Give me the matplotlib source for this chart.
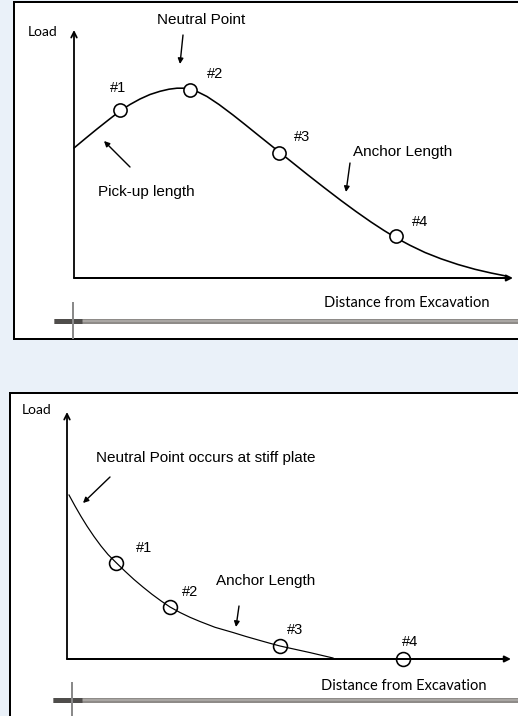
import matplotlib
matplotlib.use("Agg")
import matplotlib.pyplot as plt
from matplotlib.patches import Rectangle
from matplotlib.lines import Line2D

# ---------------- data (schematic units) ----------------
# top panel: load distribution with pick-up length, neutral point and anchor length
top_dist = [0, 12, 23, 35, 46, 56, 66, 76, 86, 95, 103, 110, 116, 124, 133, 145,
            159, 171, 184, 194, 205, 219, 234, 250, 267, 282, 297, 310, 322, 336,
            351, 367, 384, 401, 417, 432]
top_load = [130, 140, 149, 158.5, 167, 173.5, 179, 183.5, 186.7, 188.8, 189.8,
            189.8, 188.8, 186, 181.5, 173.5, 163, 153.5, 143, 135, 126.2, 115,
            103, 90.5, 77.5, 66.5, 56, 47.5, 40.2, 32.7, 25.5, 19.2, 13.5, 8.7,
            5, 2]
top_gauge_dist = [46, 116, 205, 322]
top_gauge_load = [168, 188, 125, 42]

# bottom panel: neutral point at stiff plate
bot_dist = [2, 8, 14, 20, 27, 34, 41, 49, 58, 67, 76, 85, 94, 103, 113, 123,
            133, 148, 166, 179, 193, 203, 213, 228, 243, 266]
bot_load = [164, 153, 142.6, 132.9, 122.5, 113, 104.5, 96.5, 87.8, 79.5, 71.9,
            64.7, 58.1, 52, 46.5, 41.7, 37.5, 31.7, 26.5, 22.5, 18.5, 15.7, 13,
            9.7, 6.4, 1]
bot_gauge_dist = [49, 103, 213, 336]
bot_gauge_load = [96.5, 52, 13, 0]

gauge_labels = ["#1", "#2", "#3", "#4"]
top_label_offsets = [(-2, 22), (25, 16), (23, 16), (24, 14)]
bot_label_offsets = [(28, 15), (20, 15), (15, 16), (7, 17)]

ylabel_text = "Load"
xlabel_text = "Distance from Excavation"

# ---------------- figure ----------------
W, H = 518, 716
BG = "#EAF1F9"
fig = plt.figure(figsize=(W / 100, H / 100), dpi=100, facecolor=BG)

ARIAL = ["Liberation Sans", "DejaVu Sans"]
CALIBRI = ["Lato", "DejaVu Sans"]


def fx(px):
    return px / W


def fy(py):
    return 1 - py / H


def P(px, py):
    return (fx(px), fy(py))


def pt(px):
    return px * 0.72


# panel boxes
for (x0, y0, x1, y1) in [(14, 2, 540, 339), (10, 393, 540, 740)]:
    fig.add_artist(Rectangle(P(x0, y1), fx(x1) - fx(x0), fy(y0) - fy(y1),
                             transform=fig.transFigure, facecolor="white",
                             edgecolor="black", lw=pt(2), zorder=-5,
                             clip_on=False))

# gray decorative rulers
for (ybar, xstart, xtick, ty0, ty1) in [(321, 54, 73, 302, 339), (700, 53, 72, 682, 716)]:
    fig.add_artist(Line2D([fx(xstart), fx(W)], [fy(ybar), fy(ybar)],
                          transform=fig.transFigure, color="#8e8b88",
                          lw=pt(5), solid_capstyle="butt"))
    fig.add_artist(Line2D([fx(82), fx(W)], [fy(ybar - 0.5), fy(ybar - 0.5)],
                          transform=fig.transFigure, color="#b3b0ad",
                          lw=pt(1.5), solid_capstyle="butt"))
    fig.add_artist(Line2D([fx(xstart), fx(82)], [fy(ybar), fy(ybar)],
                          transform=fig.transFigure, color="#4f4d4b",
                          lw=pt(5), solid_capstyle="butt"))
    fig.add_artist(Line2D([fx(xtick), fx(xtick)], [fy(ty0), fy(ty1)],
                          transform=fig.transFigure, color="#8a8a8a",
                          lw=pt(2), solid_capstyle="butt"))


def make_axes(left, right, top, bottom):
    ax = fig.add_axes([fx(left), fy(bottom), fx(right) - fx(left), fy(top) - fy(bottom)])
    ax.set_xlim(0, right - left)
    ax.set_ylim(0, bottom - top)
    ax.set_axis_off()
    ax.patch.set_visible(False)
    # axes arrows
    ax.annotate("", xy=(0, 1), xytext=(0, 0), xycoords="axes fraction",
                arrowprops=dict(arrowstyle="->", lw=pt(1.8), color="black",
                                shrinkA=0, shrinkB=0, mutation_scale=10))
    ax.annotate("", xy=(1, 0), xytext=(0, 0), xycoords="axes fraction",
                arrowprops=dict(arrowstyle="-|>", lw=pt(2), color="black",
                                shrinkA=0, shrinkB=0, mutation_scale=9))
    return ax


def note_arrow(tail, tip):
    fig.add_artist(plt.Annotation("", xy=P(*tip), xytext=P(*tail),
                                  xycoords="figure fraction",
                                  arrowprops=dict(arrowstyle="-|>", lw=pt(1.4),
                                                  color="black", shrinkA=0,
                                                  shrinkB=0, mutation_scale=8)))


def ftext(px, py, s, family, size, ha="center"):
    fig.text(fx(px), fy(py), s, ha=ha, va="center", family=family,
             fontsize=size, color="black")


# ---------------- top panel ----------------
ax1 = make_axes(74, 513, 30, 278)
ax1.plot(top_dist, top_load, color="black", lw=pt(1.6), solid_joinstyle="round",
         solid_capstyle="round", clip_on=False)
ax1.plot(top_gauge_dist, top_gauge_load, ls="none", marker="o", ms=9.5,
         mfc="white", mec="black", mew=pt(1.6), clip_on=False)
for x, y, lab, off in zip(top_gauge_dist, top_gauge_load, gauge_labels, top_label_offsets):
    ax1.annotate(lab, xy=(x, y), xytext=off, textcoords="offset pixels",
                 ha="center", va="center", family=ARIAL, fontsize=10.5)

ftext(43, 32, ylabel_text, CALIBRI, 10)
ftext(201, 20, "Neutral Point", ARIAL, 11)
note_arrow((183, 35), (180, 64))
ftext(146, 192, "Pick-up length", ARIAL, 11)
note_arrow((130, 167), (104, 141))
ftext(403, 152, "Anchor Length", ARIAL, 11)
note_arrow((350, 163), (346, 192))
ftext(407, 303, xlabel_text, CALIBRI, 10.5)

# ---------------- bottom panel ----------------
ax2 = make_axes(67, 511, 412, 659)
ax2.plot(bot_dist, bot_load, color="black", lw=pt(1.2), solid_joinstyle="round",
         clip_on=False)
ax2.plot(bot_gauge_dist, bot_gauge_load, ls="none", marker="o", ms=10,
         mfc="none", mec="black", mew=pt(1.6), clip_on=False)
for x, y, lab, off in zip(bot_gauge_dist, bot_gauge_load, gauge_labels, bot_label_offsets):
    ax2.annotate(lab, xy=(x, y), xytext=off, textcoords="offset pixels",
                 ha="center", va="center", family=ARIAL, fontsize=10.5)

ftext(37, 410, ylabel_text, CALIBRI, 10)
ftext(96, 458, "Neutral Point occurs at stiff plate", ARIAL, 11, ha="left")
note_arrow((110, 477), (83, 503))
ftext(216, 581, "Anchor Length", ARIAL, 11, ha="left")
note_arrow((239, 606), (236, 627))
ftext(404, 686, xlabel_text, CALIBRI, 10.5)

fig.savefig("out.png", dpi=100, facecolor=BG)
